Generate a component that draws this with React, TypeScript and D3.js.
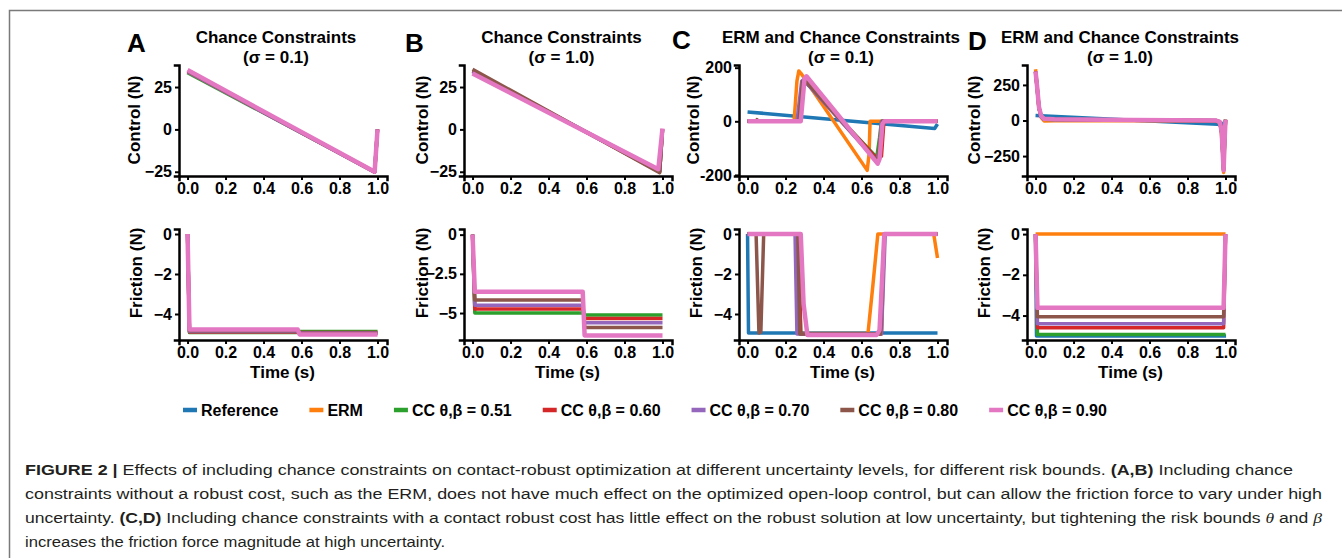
import React, { useEffect, useRef } from 'react';
import * as d3 from 'd3';

type Pt = [number, number];

const W = 1342;
const H = 558;
const FONT = "'Liberation Sans', Arial, Helvetica, sans-serif";

const SERIES_NAMES = ['Reference', 'ERM', 'CC θ,β = 0.51', 'CC θ,β = 0.60', 'CC θ,β = 0.70', 'CC θ,β = 0.80', 'CC θ,β = 0.90'];
const SERIES_COLORS = ['#1f77b4', '#ff7f0e', '#2ca02c', '#d62728', '#9467bd', '#8c564b', '#e377c2'];
const TIME_TICKS = [0, 0.2, 0.4, 0.6, 0.8, 1.0];

// ---- A: chance constraints, sigma = 0.1
const A_CTRL_CC51: Pt[] = [[0, 33.5], [0.985, -25], [1, 0]];
const A_CTRL_CC60: Pt[] = [[0, 34], [0.985, -25], [1, 0]];
const A_CTRL_CC70: Pt[] = [[0, 34], [0.985, -25.2], [1, 0]];
const A_CTRL_CC80: Pt[] = [[0, 34.5], [0.985, -25.2], [1, 0]];
const A_CTRL_CC90: Pt[] = [[0, 35], [0.985, -25], [1, 0]];
const A_FRIC_CC51: Pt[] = [[0, 0], [0.01, -4.93], [0.58, -4.93], [0.59, -4.88], [1, -4.88]];
const A_FRIC_CC60: Pt[] = [[0, 0], [0.01, -4.9], [0.58, -4.9], [0.59, -4.92], [1, -4.92]];
const A_FRIC_CC70: Pt[] = [[0, 0], [0.01, -4.87], [0.58, -4.87], [0.59, -4.95], [1, -4.95]];
const A_FRIC_CC80: Pt[] = [[0, 0], [0.01, -4.84], [0.58, -4.84], [0.59, -4.98], [1, -4.98]];
const A_FRIC_CC90: Pt[] = [[0, 0], [0.01, -4.77], [0.58, -4.77], [0.59, -5.03], [1, -5.03]];

// ---- B: chance constraints, sigma = 1.0
const B_CTRL_CC51: Pt[] = [[0, 34.5], [0.985, -25], [1, 0]];
const B_CTRL_CC60: Pt[] = [[0, 34.5], [0.985, -25], [1, 0]];
const B_CTRL_CC70: Pt[] = [[0, 34], [0.985, -24.5], [1, 0]];
const B_CTRL_CC80: Pt[] = [[0, 35.5], [0.985, -25.5], [1, 0]];
const B_CTRL_CC90: Pt[] = [[0, 33], [0.978, -23.5], [1, 0.5]];
const B_FRIC_CC51: Pt[] = [[0, 0], [0.012, -5.0], [0.58, -5.0], [0.59, -5.13], [1, -5.13]];
const B_FRIC_CC60: Pt[] = [[0, 0], [0.012, -4.75], [0.58, -4.75], [0.59, -5.35], [1, -5.35]];
const B_FRIC_CC70: Pt[] = [[0, 0], [0.012, -4.5], [0.58, -4.5], [0.59, -5.62], [1, -5.62]];
const B_FRIC_CC80: Pt[] = [[0, 0], [0.012, -4.17], [0.58, -4.17], [0.59, -5.92], [1, -5.92]];
const B_FRIC_CC90: Pt[] = [[0, 0], [0.012, -3.65], [0.58, -3.65], [0.59, -6.43], [1, -6.43]];

// ---- C: ERM and chance constraints, sigma = 0.1
const C_CTRL_REF: Pt[] = [[0, 35], [0.985, -27], [1, -10]];
const C_CTRL_ERM: Pt[] = [[0, 0], [0.245, 0], [0.26, 150], [0.27, 188], [0.28, 180], [0.63, -183], [0.64, -120], [0.645, 0], [1, 0]];
const C_CTRL_CC51: Pt[] = [[0, 0], [0.265, 0], [0.29, 148], [0.3, 150], [0.68, -135], [0.695, -60], [0.705, 0], [1, 0]];
const C_CTRL_CC60: Pt[] = [[0, 0], [0.27, 0], [0.29, 150], [0.3, 152], [0.685, -142], [0.705, -130], [0.718, 0], [1, 0]];
const C_CTRL_CC70: Pt[] = [[0, 0], [0.26, 0], [0.285, 150], [0.295, 155], [0.68, -148], [0.695, -100], [0.705, 0], [1, 0]];
const C_CTRL_CC80: Pt[] = [[0, 0], [0.045, 0], [0.05, 6], [0.055, 0], [0.27, 0], [0.29, 150], [0.3, 155], [0.685, -150], [0.7, -60], [0.71, 0], [1, 0]];
const C_CTRL_CC90: Pt[] = [[0, 0], [0.28, 0], [0.3, 160], [0.31, 168], [0.685, -158], [0.695, -140], [0.71, -10], [0.72, 0], [1, 0]];
const C_FRIC_REF: Pt[] = [[0, 0], [0.005, -4.95], [1, -4.95]];
const C_FRIC_ERM: Pt[] = [[0, 0], [0.255, 0], [0.265, -4.97], [0.634, -4.97], [0.66, -2.55], [0.686, 0], [0.98, 0], [1, -1.2]];
const C_FRIC_CC51: Pt[] = [[0, 0], [0.265, 0], [0.28, -5], [0.7, -5], [0.72, 0], [1, 0]];
const C_FRIC_CC60: Pt[] = [[0, 0], [0.27, 0], [0.28, -5], [0.705, -5], [0.72, 0], [1, 0]];
const C_FRIC_CC70: Pt[] = [[0, 0], [0.25, 0], [0.26, -5], [0.705, -5], [0.725, 0], [1, 0]];
const C_FRIC_CC80: Pt[] = [[0, 0], [0.045, 0], [0.06, -4.95], [0.07, -4.9], [0.085, 0], [0.265, 0], [0.275, -5], [0.7, -5], [0.72, 0], [1, 0]];
const C_FRIC_CC90: Pt[] = [[0, 0], [0.28, 0], [0.295, -3.5], [0.315, -5.05], [0.68, -5.05], [0.695, -4.8], [0.72, 0], [1, 0]];

// ---- D: ERM and chance constraints, sigma = 1.0
const D_CTRL_REF: Pt[] = [[0, 35], [0.985, -28], [1, 0]];
const D_CTRL_ERM: Pt[] = [[0, 360], [0.008, 250], [0.018, 90], [0.03, 20], [0.045, -3], [0.1, -2], [0.96, -2], [0.975, -40], [0.985, -200], [0.99, -365], [0.995, -180], [1, 5]];
const D_CTRL_CC51: Pt[] = [[0, 340], [0.008, 230], [0.018, 85], [0.03, 25], [0.045, 8], [0.1, 6], [0.5, 2], [0.95, -1], [0.97, -12], [0.98, -90], [0.99, -340], [0.995, -140], [1, 4]];
const D_CTRL_CC60: Pt[] = [[0, 342], [0.008, 235], [0.018, 88], [0.03, 26], [0.045, 9], [0.1, 7], [0.5, 2], [0.95, -1], [0.97, -11], [0.98, -85], [0.99, -345], [0.995, -145], [1, 4]];
const D_CTRL_CC70: Pt[] = [[0, 343], [0.008, 236], [0.018, 90], [0.03, 28], [0.045, 10], [0.1, 7], [0.5, 3], [0.95, 0], [0.97, -10], [0.98, -82], [0.99, -347], [0.995, -148], [1, 5]];
const D_CTRL_CC80: Pt[] = [[0, 344], [0.008, 238], [0.018, 92], [0.03, 29], [0.045, 11], [0.1, 8], [0.5, 3], [0.95, 0], [0.97, -10], [0.98, -80], [0.99, -348], [0.995, -149], [1, 5]];
const D_CTRL_CC90: Pt[] = [[0, 345], [0.008, 240], [0.018, 95], [0.03, 30], [0.045, 12], [0.1, 8], [0.5, 3], [0.95, 0], [0.97, -10], [0.98, -80], [0.99, -350], [0.995, -150], [1, 5]];
const D_FRIC_REF: Pt[] = [[0, 0], [0.005, -5], [1.003, -5]];
const D_FRIC_ERM: Pt[] = [[0, 0], [1, 0]];
const D_FRIC_CC51: Pt[] = [[0, 0], [0.01, -4.93], [1, -4.93]];
const D_FRIC_CC60: Pt[] = [[0, 0], [0.01, -4.6], [0.99, -4.6], [1, 0]];
const D_FRIC_CC70: Pt[] = [[0, 0], [0.01, -4.4], [0.99, -4.4], [1, 0]];
const D_FRIC_CC80: Pt[] = [[0, 0], [0.01, -4.06], [0.99, -4.06], [1, 0]];
const D_FRIC_CC90: Pt[] = [[0, 0], [0.01, -3.62], [0.99, -3.62], [1, 0]];

// tick values / labels
const CTRL_TICKS_AB = [-25, 0, 25];
const CTRL_LABELS_AB = ['−25', '0', '25'];
const CTRL_TICKS_C = [-200, 0, 200];
const CTRL_LABELS_C = ['-200', '0', '200'];
const CTRL_TICKS_D = [-250, 0, 250];
const CTRL_LABELS_D = ['−250', '0', '250'];
const FRIC_TICKS = [-4, -2, 0];
const FRIC_LABELS = ['−4', '−2', '0'];
const FRIC_TICKS_B = [-5, -2.5, 0];
const FRIC_LABELS_B = ['−5', '−2.5', '0'];

const CAPTION: [string, string][][] = [
  [['FIGURE 2 | ', 'b'], ['Effects of including chance constraints on contact-robust optimization at different uncertainty levels, for different risk bounds. ', 'n'], ['(A,B)', 'b'], [' Including chance', 'n']],
  [['constraints without a robust cost, such as the ERM, does not have much effect on the optimized open-loop control, but can allow the friction force to vary under high', 'n']],
  [['uncertainty. ', 'n'], ['(C,D)', 'b'], [' Including chance constraints with a contact robust cost has little effect on the robust solution at low uncertainty, but tightening the risk bounds ', 'n'], ['θ', 'i'], [' and ', 'n'], ['β', 'i']],
  [['increases the friction force magnitude at high uncertainty.', 'n']],
];

const PANELS = [
  {
    letter: 'A', title: 'Chance Constraints', sub: '(σ = 0.1)',
    ctrlDomain: [-27.5, 38], ctrlTicks: CTRL_TICKS_AB, ctrlLabels: CTRL_LABELS_AB,
    fricDomain: [-5.3, 0.25], fricTicks: FRIC_TICKS, fricLabels: FRIC_LABELS,
    ctrl: [null, null, A_CTRL_CC51, A_CTRL_CC60, A_CTRL_CC70, A_CTRL_CC80, A_CTRL_CC90],
    fric: [null, null, A_FRIC_CC51, A_FRIC_CC60, A_FRIC_CC70, A_FRIC_CC80, A_FRIC_CC90],
  },
  {
    letter: 'B', title: 'Chance Constraints', sub: '(σ = 1.0)',
    ctrlDomain: [-27.5, 38], ctrlTicks: CTRL_TICKS_AB, ctrlLabels: CTRL_LABELS_AB,
    fricDomain: [-6.72, 0.36], fricTicks: FRIC_TICKS_B, fricLabels: FRIC_LABELS_B,
    ctrl: [null, null, B_CTRL_CC51, B_CTRL_CC60, B_CTRL_CC70, B_CTRL_CC80, B_CTRL_CC90],
    fric: [null, null, B_FRIC_CC51, B_FRIC_CC60, B_FRIC_CC70, B_FRIC_CC80, B_FRIC_CC90],
  },
  {
    letter: 'C', title: 'ERM and Chance Constraints', sub: '(σ = 0.1)',
    ctrlDomain: [-204, 210], ctrlTicks: CTRL_TICKS_C, ctrlLabels: CTRL_LABELS_C,
    fricDomain: [-5.3, 0.25], fricTicks: FRIC_TICKS, fricLabels: FRIC_LABELS,
    ctrl: [C_CTRL_REF, C_CTRL_ERM, C_CTRL_CC51, C_CTRL_CC60, C_CTRL_CC70, C_CTRL_CC80, C_CTRL_CC90],
    fric: [C_FRIC_REF, C_FRIC_ERM, C_FRIC_CC51, C_FRIC_CC60, C_FRIC_CC70, C_FRIC_CC80, C_FRIC_CC90],
  },
  {
    letter: 'D', title: 'ERM and Chance Constraints', sub: '(σ = 1.0)',
    ctrlDomain: [-390, 390], ctrlTicks: CTRL_TICKS_D, ctrlLabels: CTRL_LABELS_D,
    fricDomain: [-5.2, 0.25], fricTicks: FRIC_TICKS, fricLabels: FRIC_LABELS,
    ctrl: [D_CTRL_REF, D_CTRL_ERM, D_CTRL_CC51, D_CTRL_CC60, D_CTRL_CC70, D_CTRL_CC80, D_CTRL_CC90],
    fric: [D_FRIC_REF, D_FRIC_ERM, D_FRIC_CC51, D_FRIC_CC60, D_FRIC_CC70, D_FRIC_CC80, D_FRIC_CC90],
  },
];

// layout (pixels)
const PANEL_LEFT = [179, 464, 739, 1027];
const PANEL_W = 208;
const TOP_ROW: [number, number] = [65, 176];
const BOT_ROW: [number, number] = [229, 340];
const LETTER_POS: [number, number][] = [[127, 51.5], [405, 51.5], [672, 49], [968, 50]];
const TITLE_X = [276, 561.5, 841, 1120];
const YLABEL_X_TOP = [140, 428, 699, 980];
const YLABEL_X_BOT = [142, 428, 702, 990];
const CAPTION_LEN = [1268, 1297, 1297, 420];

function drawAxes(g, x, y, bottom, left, ticks, labels) {
  const ax = g.append('g')
    .attr('transform', `translate(0,${bottom})`)
    .call(d3.axisBottom(x).tickValues(TIME_TICKS).tickFormat(d3.format('.1f')).tickSizeOuter(0).tickSize(4).tickPadding(3));
  const ay = g.append('g')
    .attr('transform', `translate(${left},0)`)
    .call(d3.axisLeft(y).tickValues(ticks).tickFormat((d, i) => labels[i]).tickSizeOuter(0).tickSize(4).tickPadding(3));
  [ax, ay].forEach(a => {
    a.attr('font-family', FONT).attr('font-size', 16).attr('font-weight', 'bold');
    a.select('.domain').attr('stroke', '#000').attr('stroke-width', 2.5).attr('stroke-linecap', 'square');
    a.selectAll('.tick line').attr('stroke', '#000').attr('stroke-width', 2);
    a.selectAll('.tick text').attr('fill', '#000');
  });
}

function drawLines(g, x, y, series) {
  const line = d3.line<Pt>().x(d => x(d[0])).y(d => y(d[1]));
  series.forEach((pts, i) => {
    if (!pts) return;
    g.append('path')
      .attr('d', line(pts))
      .attr('fill', 'none')
      .attr('stroke', SERIES_COLORS[i])
      .attr('stroke-width', i === 6 ? 4.5 : 3.5)
      .attr('stroke-linejoin', 'round');
  });
}

function buildFigure(el: SVGSVGElement) {
  const svg = d3.select(el);
  svg.selectAll('*').remove();

  svg.append('rect').attr('width', W).attr('height', H).attr('fill', '#fff');
  // frame of the figure page
  svg.append('path').attr('d', `M9.5,${H} V10.5 H${W}`).attr('fill', 'none').attr('stroke', '#7a7a7a').attr('stroke-width', 1.5);

  PANELS.forEach((p, k) => {
    const left = PANEL_LEFT[k];
    const x = d3.scaleLinear().domain([-0.045, 1.05]).range([left, left + PANEL_W]);
    const yTop = d3.scaleLinear().domain(p.ctrlDomain).range([TOP_ROW[1], TOP_ROW[0]]);
    const yBot = d3.scaleLinear().domain(p.fricDomain).range([BOT_ROW[1], BOT_ROW[0]]);
    const g = svg.append('g');

    drawLines(g, x, yTop, p.ctrl);
    drawLines(g, x, yBot, p.fric);
    drawAxes(g, x, yTop, TOP_ROW[1], left, p.ctrlTicks, p.ctrlLabels);
    drawAxes(g, x, yBot, BOT_ROW[1], left, p.fricTicks, p.fricLabels);

    const txt = (s, tx, ty, size, anchor = 'middle') =>
      g.append('text').attr('x', tx).attr('y', ty).attr('font-family', FONT).attr('font-weight', 'bold')
        .attr('font-size', size).attr('text-anchor', anchor).attr('fill', '#000').text(s);

    txt(p.letter, LETTER_POS[k][0], LETTER_POS[k][1], 26, 'start');
    txt(p.title, TITLE_X[k], 42.5, 17);
    txt(p.sub, TITLE_X[k], 62.5, 17);
    txt('Time (s)', x(0.5), 378, 17);
    txt('Control (N)', 0, 0, 17).attr('transform', `translate(${YLABEL_X_TOP[k]},120) rotate(-90)`);
    txt('Friction (N)', 0, 0, 17).attr('transform', `translate(${YLABEL_X_BOT[k]},273) rotate(-90)`);
  });

  // legend
  const leg = svg.append('g');
  let cx = 183;
  SERIES_NAMES.forEach((name, i) => {
    leg.append('line').attr('x1', cx).attr('x2', cx + 14).attr('y1', 410).attr('y2', 410)
      .attr('stroke', SERIES_COLORS[i]).attr('stroke-width', 4.5);
    const t = leg.append('text').attr('x', cx + 18).attr('y', 415.5).attr('font-family', FONT)
      .attr('font-weight', 'bold').attr('font-size', 16).attr('fill', '#000').text(name);
    cx += 18 + (t.node() as SVGTextElement).getComputedTextLength() + 31;
  });

  // caption
  CAPTION.forEach((segs, li) => {
    const t = svg.append('text').attr('x', 25).attr('y', 475 + li * 24)
      .attr('font-family', FONT).attr('font-size', 15.5).attr('fill', '#231f20')
      .attr('textLength', CAPTION_LEN[li]).attr('lengthAdjust', 'spacingAndGlyphs');
    segs.forEach(([s, st]) => {
      const ts = t.append('tspan').text(s);
      if (st === 'b') ts.attr('font-weight', 'bold');
      if (st === 'i') ts.attr('font-style', 'italic').attr('font-family', "'Liberation Serif', 'DejaVu Serif', serif");
    });
  });
}

export default function App() {
  const ref = useRef<SVGSVGElement>(null);
  useEffect(() => {
    if (ref.current) buildFigure(ref.current);
  }, []);
  return (
    <div style={{ position: 'absolute', left: 0, top: 0 }}>
      <svg ref={ref} width={W} height={H} style={{ display: 'block' }} />
    </div>
  );
}
